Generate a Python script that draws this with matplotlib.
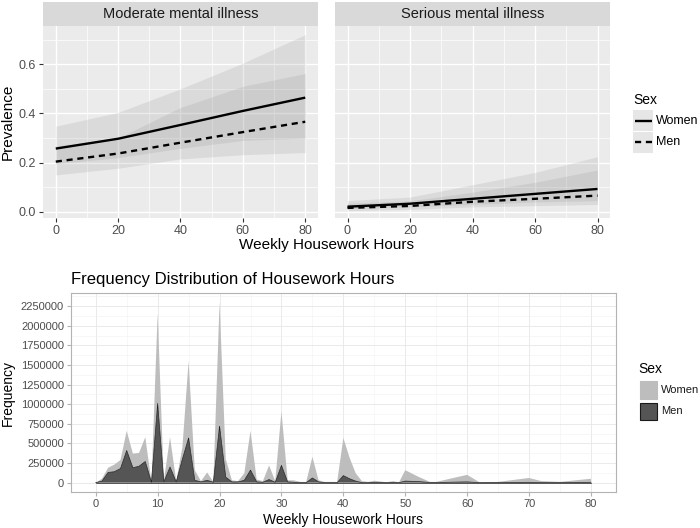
import numpy as np
import matplotlib
matplotlib.use("Agg")
import matplotlib.pyplot as plt
from matplotlib.patches import Rectangle
from matplotlib.ticker import MultipleLocator

plt.rcParams['font.family'] = ['Liberation Sans', 'DejaVu Sans']

# --- prevalence panels (predicted values at 0..80 weekly hours) ---
hours_pred = [0, 20, 40, 60, 80]
panels = ["Moderate mental illness", "Serious mental illness"]

mod_women = [0.257, 0.297, 0.353, 0.410, 0.464]
mod_women_lo = [0.195, 0.220, 0.258, 0.290, 0.300]
mod_women_hi = [0.348, 0.404, 0.500, 0.604, 0.720]
mod_men = [0.204, 0.237, 0.281, 0.324, 0.366]
mod_men_lo = [0.150, 0.177, 0.215, 0.232, 0.241]
mod_men_hi = [0.268, 0.300, 0.424, 0.510, 0.562]

ser_women = [0.021, 0.033, 0.053, 0.073, 0.093]
ser_women_lo = [0.012, 0.020, 0.030, 0.040, 0.045]
ser_women_hi = [0.046, 0.060, 0.110, 0.160, 0.224]
ser_men = [0.016, 0.024, 0.041, 0.053, 0.066]
ser_men_lo = [0.005, 0.010, 0.020, 0.025, 0.030]
ser_men_hi = [0.035, 0.045, 0.080, 0.120, 0.170]

# --- frequency distribution (stacked: men at bottom, women on top), millions ---
freq_hours = [0, 1, 2, 3, 4, 5, 6, 7, 8, 9, 10, 11, 12, 13, 14, 15, 16, 17, 18, 19,
              20, 21, 22, 23, 24, 25, 26, 27, 28, 29, 30, 31, 32, 33, 34, 35, 36, 37, 38, 39,
              40, 41, 42, 43, 44, 45, 47, 48, 49, 50, 52, 54, 55, 60, 62, 65, 70, 72, 75, 80]
men_freq = np.array([0, 0.02, 0.13, 0.14, 0.18, 0.41, 0.19, 0.21, 0.27, 0.005,
                     1.01, 0.01, 0.20, 0.01, 0.30, 0.57, 0.03, 0.01, 0.03, 0.005,
                     0.72, 0.07, 0.01, 0.01, 0.03, 0.16, 0.01, 0.005, 0.04, 0.005,
                     0.22, 0.01, 0.005, 0, 0, 0.06, 0.01, 0, 0, 0,
                     0.09, 0.05, 0.02, 0, 0, 0.005, 0, 0.003, 0, 0.02,
                     0.015, 0.002, 0.002, 0.01, 0, 0.001, 0.005, 0, 0.002, 0.005]) * 1e6
women_freq = np.array([0, 0.03, 0.06, 0.09, 0.11, 0.25, 0.18, 0.17, 0.31, 0.005,
                       1.15, 0.01, 0.38, 0.01, 0.15, 0.98, 0.13, 0.01, 0.10, 0.005,
                       1.58, 0.23, 0.02, 0.01, 0.09, 0.50, 0.03, 0.015, 0.18, 0.015,
                       0.69, 0.02, 0.025, 0.01, 0.01, 0.27, 0.02, 0.01, 0.01, 0.01,
                       0.48, 0.27, 0.10, 0.02, 0.01, 0.02, 0.005, 0.017, 0.005, 0.14,
                       0.065, 0.008, 0.008, 0.09, 0.005, 0.009, 0.055, 0.02, 0.008, 0.045]) * 1e6

sexes = ['Women', 'Men']

W, H = 700, 528
fig = plt.figure(figsize=(7, 5.28), dpi=100)


def px_axes(x0, y0, x1, y1):
    return fig.add_axes([x0 / W, 1 - y1 / H, (x1 - x0) / W, (y1 - y0) / H])


def legend_axes(x0, y0, x1, y1):
    # helper axes whose data units are figure pixels (y downwards)
    a = px_axes(x0, y0, x1, y1)
    a.set_xlim(x0, x1)
    a.set_ylim(y1, y0)
    a.axis('off')
    return a


grey_txt = '#4d4d4d'
rib_col = '#8c8c8c'
men_dash = (2.6, 2.0)

series = [
    (mod_women, mod_women_lo, mod_women_hi, mod_men, mod_men_lo, mod_men_hi),
    (ser_women, ser_women_lo, ser_women_hi, ser_men, ser_men_lo, ser_men_hi),
]
boxes = [(43.3, 26, 317.7, 218), (335, 26, 610, 218)]

for i, (name, data, box) in enumerate(zip(panels, series, boxes)):
    ax = px_axes(*box)
    wl, wlo, whi, ml, mlo, mhi = data
    ax.set_facecolor('#ebebeb')
    ax.fill_between(hours_pred, wlo, whi, color=rib_col, alpha=0.17, lw=0)
    ax.fill_between(hours_pred, mlo, mhi, color=rib_col, alpha=0.17, lw=0)
    ax.plot(hours_pred, wl, color='black', lw=1.7, solid_capstyle='butt')
    ax.plot(hours_pred, ml, color='black', lw=1.7, dashes=men_dash)
    ax.set_xlim(-4, 84)
    ax.set_ylim(-0.025, 0.755)
    ax.xaxis.set_major_locator(MultipleLocator(20))
    ax.xaxis.set_minor_locator(MultipleLocator(10))
    ax.yaxis.set_major_locator(MultipleLocator(0.2))
    ax.yaxis.set_minor_locator(MultipleLocator(0.1))
    ax.grid(which='major', color='white', lw=1.0)
    ax.grid(which='minor', color='white', lw=0.5)
    ax.set_axisbelow(True)
    for s in ax.spines.values():
        s.set_visible(False)
    ax.tick_params(which='major', length=3, color='#333333', labelsize=9, labelcolor=grey_txt, pad=2)
    ax.tick_params(which='minor', length=0)
    ax.yaxis.set_major_formatter(matplotlib.ticker.FormatStrFormatter('%.1f'))
    if i == 1:
        ax.tick_params(axis='y', labelleft=False, length=0)
    else:
        ax.set_ylabel('Prevalence', fontsize=11, color='black')
        ax.yaxis.set_label_coords((15 - box[0]) / (box[2] - box[0]), 0.5)
    # facet strip
    sx = px_axes(box[0], 2, box[2], 26)
    sx.set_facecolor('#d9d9d9')
    sx.set_xticks([])
    sx.set_yticks([])
    for s in sx.spines.values():
        s.set_visible(False)
    sx.text(0.5, 0.5, name, ha='center', va='center', fontsize=10.5, color='#1a1a1a',
            transform=sx.transAxes)

fig.text(326.6 / W, 1 - 245 / H, 'Weekly Housework Hours', ha='center', va='center', fontsize=11)

# legend for the prevalence panels
lg = legend_axes(620, 85, 700, 160)
lg.text(633, 100, 'Sex', fontsize=10, va='center', ha='left')
for k, (lab, dash) in enumerate(zip(sexes, [None, men_dash])):
    y0 = 110 + k * 21.5
    lg.add_patch(Rectangle((633, y0), 20, 21, fc='#e6e6e6', ec='none'))
    if dash is None:
        lg.plot([634.5, 651.5], [y0 + 10.5] * 2, color='black', lw=1.7, solid_capstyle='butt')
    else:
        lg.plot([634.5, 651.5], [y0 + 10.5] * 2, color='black', lw=1.7, dashes=dash)
    lg.text(656, y0 + 10.5, lab, fontsize=9, va='center', ha='left')

# --- frequency distribution ---
ax2 = px_axes(71, 293.3, 615.7, 491.7)
ax2.stackplot(freq_hours, men_freq, women_freq, colors=['#555555', '#bdbdbd'],
              edgecolor='none', lw=0)
ax2.plot(freq_hours, men_freq, color='#1a1a1a', lw=0.5)
ax2.plot(freq_hours, np.zeros(len(freq_hours)), color='#1a1a1a', lw=0.5)
ax2.set_xlim(-4, 84)
ax2.set_ylim(-115000, 2415000)
ax2.xaxis.set_major_locator(MultipleLocator(10))
ax2.xaxis.set_minor_locator(MultipleLocator(5))
ax2.yaxis.set_major_locator(MultipleLocator(250000))
ax2.yaxis.set_minor_locator(MultipleLocator(125000))
ax2.yaxis.set_major_formatter(matplotlib.ticker.FuncFormatter(lambda v, p: '%d' % v))
ax2.grid(which='major', color='#e6e6e6', lw=0.6)
ax2.grid(which='minor', color='#f2f2f2', lw=0.4)
ax2.set_axisbelow(True)
for s in ax2.spines.values():
    s.set_color('#b3b3b3')
    s.set_linewidth(0.8)
ax2.tick_params(which='major', length=3, color='#b3b3b3', labelsize=8, labelcolor=grey_txt, pad=2)
ax2.tick_params(which='minor', length=0)
ax2.set_xlabel('Weekly Housework Hours', fontsize=10, labelpad=3)
ax2.set_ylabel('Frequency', fontsize=10, labelpad=4)
ax2.set_title('Frequency Distribution of Housework Hours', loc='left', fontsize=12, pad=7)

# legend for the frequency chart
lg2 = legend_axes(625, 355, 700, 430)
lg2.text(638, 369, 'Sex', fontsize=10, va='center', ha='left')
for k, (lab, fc, ec) in enumerate(zip(sexes, ['#bdbdbd', '#555555'], ['#bdbdbd', '#1a1a1a'])):
    y0 = 381 + k * 21.7
    lg2.add_patch(Rectangle((639.5, y0), 17.5, 17.5, fc=fc, ec=ec, lw=0.8))
    lg2.text(661, y0 + 8.75, lab, fontsize=8, va='center', ha='left', color='#1a1a1a')

fig.savefig('out.png', dpi=100)
